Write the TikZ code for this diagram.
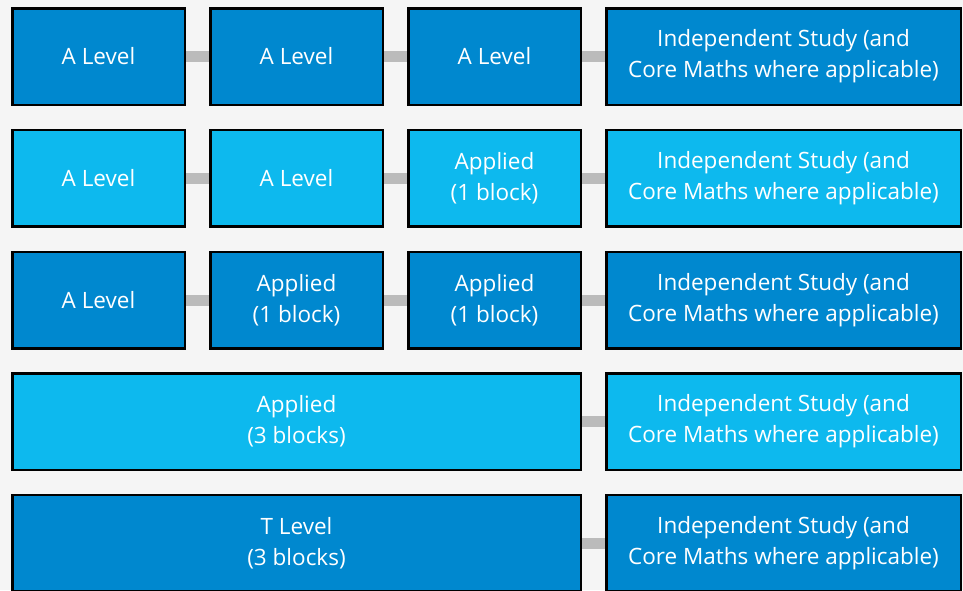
\documentclass[tikz,border=0pt]{standalone}
\usepackage{fontspec}
\setmainfont{Open Sans}
\usetikzlibrary{backgrounds}
\definecolor{bgc}{HTML}{F5F5F5}
\definecolor{dk}{HTML}{0088CF}
\definecolor{lt}{HTML}{0DB9EE}
\definecolor{conn}{HTML}{BBBBBB}
\tikzset{
  box/.style={draw=black, line width=2.5pt, text=white, align=center, inner sep=0pt,
    minimum height=96.5pt, font=\fontsize{22.5}{31}\selectfont},
  narrow/.style={box, minimum width=172.5pt},
  wide/.style={box, minimum width=354.5pt},
  xwide/.style={box, minimum width=568.5pt},
  dkbox/.style={fill=dk},
  ltbox/.style={fill=lt},
  link/.style={draw=conn, line width=11pt}
}
\begin{document}
\begin{tikzpicture}[x=1pt,y=-1pt]
\useasboundingbox (0,0) rectangle (963,590);
\clip (0,0) rectangle (963,590);
% row 1
\node[narrow,dkbox] (a1) at (98.5,56.5) {A Level};
\node[narrow,dkbox] (b1) at (296.5,56.5) {A Level};
\node[narrow,dkbox] (c1) at (494.5,56.5) {A Level};
\node[wide,dkbox] (d1) at (783.5,56.5) {Independent Study (and\\Core Maths where applicable)};
% row 2
\node[narrow,ltbox] (a2) at (98.5,178) {A Level};
\node[narrow,ltbox] (b2) at (296.5,178) {A Level};
\node[narrow,ltbox] (c2) at (494.5,178) {Applied\\(1 block)};
\node[wide,ltbox] (d2) at (783.5,178) {Independent Study (and\\Core Maths where applicable)};
% row 3
\node[narrow,dkbox] (a3) at (98.5,300) {A Level};
\node[narrow,dkbox] (b3) at (296.5,300) {Applied\\(1 block)};
\node[narrow,dkbox] (c3) at (494.5,300) {Applied\\(1 block)};
\node[wide,dkbox] (d3) at (783.5,300) {Independent Study (and\\Core Maths where applicable)};
% row 4
\node[xwide,ltbox] (a4) at (296.5,421.5) {Applied\\(3 blocks)};
\node[wide,ltbox] (d4) at (783.5,421.5) {Independent Study (and\\Core Maths where applicable)};
% row 5
\node[xwide,dkbox] (a5) at (296.5,543) {T Level\\(3 blocks)};
\node[wide,dkbox] (d5) at (783.5,543) {Independent Study (and\\Core Maths where applicable)};
\begin{pgfonlayer}{background}
\fill[bgc] (0,0) rectangle (963,590);
\draw[link] (a1) -- (b1);
\draw[link] (b1) -- (c1);
\draw[link] (c1) -- (d1);
\draw[link] (a2) -- (b2);
\draw[link] (b2) -- (c2);
\draw[link] (c2) -- (d2);
\draw[link] (a3) -- (b3);
\draw[link] (b3) -- (c3);
\draw[link] (c3) -- (d3);
\draw[link] (a4) -- (d4);
\draw[link] (a5) -- (d5);
\end{pgfonlayer}
\end{tikzpicture}
\end{document}
